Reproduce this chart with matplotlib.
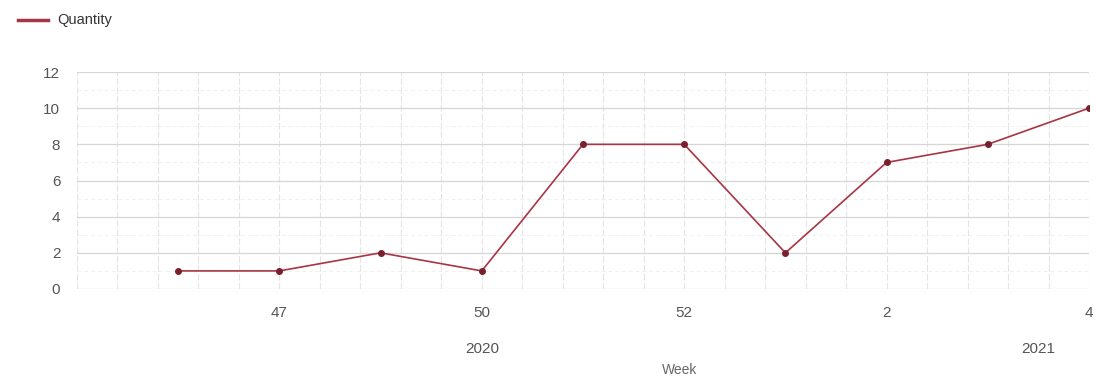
import matplotlib
matplotlib.use("Agg")
import matplotlib.pyplot as plt
from matplotlib import font_manager
import numpy as np

# Weekly quantities
quantity = [1, 1, 2, 1, 8, 8, 2, 7, 8, 10]
week_tick_pos = [1, 3, 5, 7, 9]
week_tick_labels = ["47", "50", "52", "2", "4"]
year_pos = [3, 8.5]
year_labels = ["2020", "2021"]
y_ticks = [0, 2, 4, 6, 8, 10, 12]

names = {f.name for f in font_manager.fontManager.ttflist}
family = ["Liberation Sans Narrow", "DejaVu Sans"] if "Liberation Sans Narrow" in names else ["Liberation Sans", "DejaVu Sans"]
plt.rcParams["font.family"] = family

fig = plt.figure(figsize=(10.96, 3.8), dpi=100)
ax = fig.add_axes([77 / 1096, 1 - 289 / 380, 1012 / 1096, 217 / 380])

x = np.arange(len(quantity))
ax.set_xlim(-1, 9)
ax.set_ylim(0, 12)

# grid
for k in range(26):
    gx = -1 + 0.4 * k
    ax.axvline(gx, color="#e4e4e4", lw=0.8, ls=(0, (6, 2)), zorder=0)
for gy in y_ticks:
    ax.axhline(gy, color="#d6d6d6", lw=0.9, zorder=0)
for gy in range(1, 12, 2):
    ax.axhline(gy, color="#f0f0f0", lw=0.7, ls=(0, (4, 3)), zorder=0)

line_color = "#a83545"
ax.plot(x, quantity, color=line_color, lw=1.2, zorder=3, label="Quantity")
ax.plot(x, quantity, ls="none", marker="o", ms=4, color="#7a1f2e", zorder=4)

for s in ax.spines.values():
    s.set_visible(False)

ax.set_yticks(y_ticks)
ax.set_yticklabels([str(v) for v in y_ticks])
ax.set_xticks(week_tick_pos)
ax.set_xticklabels(week_tick_labels)
ax.tick_params(axis="both", length=0, labelsize=11, labelcolor="#555555")
ax.tick_params(axis="x", pad=12)
ax.tick_params(axis="y", pad=12)

for xp, lab in zip(year_pos, year_labels):
    ax.text(xp, -1.02 * 12 / 217 * 59, lab, ha="center", va="center",
            fontsize=11, color="#555555", transform=ax.transData, clip_on=False)

ax.text(0.595, -0.375, "Week", transform=ax.transAxes, ha="center", va="center",
        fontsize=10, color="#666666")

# legend
fig.lines.append(plt.Line2D([18 / 1096, 48 / 1096], [1 - 20 / 380] * 2,
                            transform=fig.transFigure, color=line_color, lw=2.5))
fig.text(57 / 1096, 1 - 20 / 380, "Quantity", ha="left", va="center",
         fontsize=10.5, color="#333333")

fig.savefig("out.png", dpi=100)
